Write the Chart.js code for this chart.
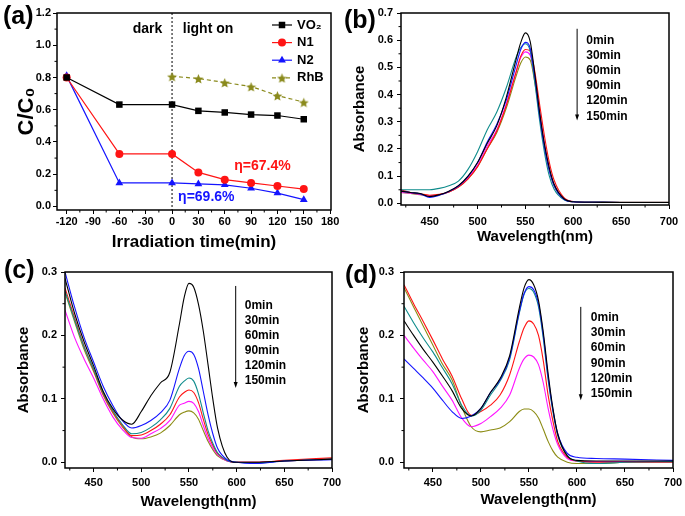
<!DOCTYPE html>
<html>
<head>
<meta charset="utf-8">
<script src="https://cdn.jsdelivr.net/npm/chart.js@4.4.1/dist/chart.umd.min.js"></script>
<style>
  body { margin: 0; background: #fff; }
  #fig { position: relative; width: 685px; height: 516px; overflow: hidden; }
  #fig canvas { position: absolute; }
</style>
</head>
<body>
<div id="fig">
  <canvas id="pa" width="342" height="258" style="left:0;top:0"></canvas>
  <canvas id="pb" width="343" height="258" style="left:342px;top:0"></canvas>
  <canvas id="pc" width="342" height="258" style="left:0;top:258px"></canvas>
  <canvas id="pd" width="343" height="258" style="left:342px;top:258px"></canvas>
</div>
<script>
// ---- panel (a): C/C0 vs irradiation time ----
const timeMin = [-120, -60, 0, 30, 60, 90, 120, 150];
const vo2 = [0.80, 0.632, 0.632, 0.593, 0.583, 0.570, 0.564, 0.541];
const n1 = [0.80, 0.326, 0.326, 0.211, 0.166, 0.146, 0.127, 0.108];
const n2 = [0.81, 0.146, 0.146, 0.140, 0.134, 0.113, 0.083, 0.042];
const rhbTime = [0, 30, 60, 90, 120, 150];
const rhb = [0.807, 0.794, 0.769, 0.744, 0.688, 0.647];

// ---- panels (b)-(d): absorption spectra ----
const wavelength = [420, 430, 440, 450, 460, 470, 480, 490, 500, 510, 520, 530, 540, 545, 550, 555, 560, 565, 570, 575, 580, 590, 600, 620, 650, 700];
const timeLabels = ['0min', '30min', '60min', '90min', '120min', '150min'];

const absB = [
  [0.045, 0.040, 0.036, 0.025, 0.032, 0.045, 0.065, 0.100, 0.150, 0.220, 0.285, 0.390, 0.526, 0.590, 0.627, 0.595, 0.470, 0.330, 0.215, 0.130, 0.070, 0.018, 0.006, 0.004, 0.003, 0.003],
  [0.045, 0.040, 0.035, 0.022, 0.030, 0.044, 0.064, 0.098, 0.150, 0.225, 0.290, 0.380, 0.505, 0.565, 0.592, 0.570, 0.460, 0.320, 0.205, 0.120, 0.065, 0.016, 0.006, 0.004, 0.003, 0.003],
  [0.050, 0.050, 0.050, 0.050, 0.055, 0.065, 0.082, 0.125, 0.190, 0.270, 0.335, 0.425, 0.535, 0.572, 0.587, 0.560, 0.440, 0.300, 0.185, 0.100, 0.052, 0.014, 0.006, 0.005, 0.004, 0.004],
  [0.050, 0.040, 0.035, 0.030, 0.033, 0.042, 0.060, 0.090, 0.135, 0.200, 0.265, 0.360, 0.480, 0.540, 0.566, 0.560, 0.480, 0.360, 0.245, 0.150, 0.085, 0.022, 0.007, 0.005, 0.004, 0.004],
  [0.040, 0.037, 0.033, 0.028, 0.032, 0.043, 0.062, 0.094, 0.140, 0.210, 0.270, 0.365, 0.480, 0.535, 0.557, 0.545, 0.455, 0.330, 0.215, 0.125, 0.068, 0.018, 0.006, 0.004, 0.003, 0.003],
  [0.040, 0.036, 0.032, 0.027, 0.031, 0.042, 0.060, 0.090, 0.135, 0.200, 0.260, 0.350, 0.465, 0.515, 0.538, 0.527, 0.440, 0.320, 0.205, 0.120, 0.065, 0.017, 0.006, 0.004, 0.003, 0.003]
];

const absC = [
  [0.290, 0.235, 0.190, 0.152, 0.112, 0.085, 0.067, 0.060, 0.080, 0.105, 0.125, 0.142, 0.218, 0.260, 0.282, 0.276, 0.249, 0.207, 0.154, 0.100, 0.054, 0.008, 0.000, 0.000, 0.002, 0.005],
  [0.300, 0.245, 0.197, 0.158, 0.120, 0.090, 0.066, 0.054, 0.058, 0.066, 0.078, 0.098, 0.148, 0.168, 0.175, 0.170, 0.148, 0.112, 0.075, 0.045, 0.022, 0.004, 0.000, -0.002, 0.002, 0.004],
  [0.270, 0.225, 0.182, 0.147, 0.110, 0.082, 0.060, 0.045, 0.047, 0.055, 0.067, 0.085, 0.120, 0.128, 0.133, 0.128, 0.108, 0.078, 0.050, 0.030, 0.015, 0.003, 0.000, -0.001, 0.002, 0.005],
  [0.275, 0.228, 0.183, 0.146, 0.108, 0.080, 0.058, 0.042, 0.043, 0.050, 0.060, 0.075, 0.103, 0.110, 0.114, 0.110, 0.094, 0.068, 0.044, 0.027, 0.014, 0.003, 0.000, 0.000, 0.003, 0.007],
  [0.240, 0.197, 0.163, 0.133, 0.100, 0.072, 0.052, 0.039, 0.038, 0.045, 0.053, 0.066, 0.090, 0.093, 0.096, 0.093, 0.080, 0.058, 0.038, 0.023, 0.012, 0.002, 0.000, 0.000, 0.002, 0.005],
  [0.268, 0.222, 0.178, 0.143, 0.106, 0.078, 0.056, 0.040, 0.037, 0.040, 0.046, 0.058, 0.075, 0.079, 0.081, 0.078, 0.068, 0.050, 0.033, 0.020, 0.010, 0.002, 0.000, 0.000, 0.002, 0.005]
];

const absD = [
  [0.223, 0.200, 0.178, 0.158, 0.136, 0.113, 0.085, 0.073, 0.085, 0.110, 0.132, 0.168, 0.243, 0.275, 0.288, 0.280, 0.255, 0.205, 0.140, 0.085, 0.045, 0.010, 0.003, 0.002, 0.002, 0.002],
  [0.163, 0.148, 0.133, 0.117, 0.098, 0.080, 0.069, 0.073, 0.085, 0.110, 0.130, 0.165, 0.237, 0.266, 0.277, 0.272, 0.250, 0.200, 0.135, 0.083, 0.045, 0.014, 0.008, 0.006, 0.005, 0.003],
  [0.246, 0.220, 0.196, 0.174, 0.149, 0.124, 0.090, 0.073, 0.082, 0.106, 0.128, 0.162, 0.235, 0.265, 0.274, 0.268, 0.245, 0.195, 0.130, 0.080, 0.042, 0.010, 0.002, -0.002, 0.000, 0.001],
  [0.280, 0.250, 0.222, 0.193, 0.163, 0.136, 0.100, 0.074, 0.080, 0.090, 0.106, 0.138, 0.190, 0.212, 0.223, 0.218, 0.200, 0.160, 0.106, 0.065, 0.033, 0.008, 0.002, 0.000, 0.000, 0.000],
  [0.200, 0.180, 0.161, 0.143, 0.120, 0.098, 0.070, 0.056, 0.061, 0.072, 0.085, 0.106, 0.148, 0.163, 0.169, 0.166, 0.154, 0.125, 0.085, 0.052, 0.028, 0.006, 0.002, 0.001, 0.001, 0.001],
  [0.275, 0.245, 0.215, 0.185, 0.155, 0.130, 0.088, 0.056, 0.048, 0.051, 0.054, 0.064, 0.080, 0.084, 0.084, 0.080, 0.070, 0.052, 0.033, 0.018, 0.008, 0.000, -0.002, -0.002, 0.000, 0.001]
];

const spectraColors = ['#000000', '#1414ff', '#0f8c8c', '#ff1414', '#ff14ff', '#8c8c14'];

Chart.defaults.font.family = "'Liberation Sans', Arial, sans-serif";
Chart.defaults.font.weight = 'bold';
Chart.defaults.font.size = 11;
Chart.defaults.color = '#000';

// frame round the plot area + minor ticks between the major ones
const framePlugin = {
  id: 'frame',
  afterDraw(chart) {
    const { ctx, chartArea: a } = chart;
    ctx.save();
    ctx.strokeStyle = '#000';
    ctx.lineWidth = 1;
    ['x', 'y'].forEach(id => {
      const s = chart.scales[id];
      const vals = s.ticks.map(t => t.value);
      const step = vals[1] - vals[0];
      for (let v = vals[0] - step / 2; v <= s.max; v += step) {
        if (v < s.min) continue;
        const p = s.getPixelForValue(v);
        ctx.beginPath();
        if (id === 'x') { ctx.moveTo(p, a.bottom); ctx.lineTo(p, a.bottom + 2.5); }
        else { ctx.moveTo(a.left, p); ctx.lineTo(a.left - 2.5, p); }
        ctx.stroke();
      }
    });
    ctx.lineWidth = 1.5;
    ctx.strokeRect(a.left, a.top, a.right - a.left, a.bottom - a.top);
    ctx.restore();
  }
};

const panelLabelPlugin = {
  id: 'panelLabel',
  afterDraw(chart, args, opts) {
    const ctx = chart.ctx;
    ctx.save();
    ctx.font = "bold 25px 'Liberation Sans', Arial, sans-serif";
    ctx.fillStyle = '#000';
    ctx.textBaseline = 'middle';
    ctx.fillText(opts.text, opts.x, opts.y);
    ctx.restore();
  }
};

// arrow with the list of irradiation times
const timeArrowPlugin = {
  id: 'timeArrow',
  afterDraw(chart, args, o) {
    const { ctx, scales: { x, y } } = chart;
    const ax = x.getPixelForValue(o.x);
    const y1 = y.getPixelForValue(o.yTop);
    const y2 = y.getPixelForValue(o.yBot);
    ctx.save();
    ctx.strokeStyle = '#000';
    ctx.fillStyle = '#000';
    ctx.lineWidth = 1;
    ctx.beginPath(); ctx.moveTo(ax, y1); ctx.lineTo(ax, y2 - 5); ctx.stroke();
    ctx.beginPath(); ctx.moveTo(ax - 2, y2 - 6); ctx.lineTo(ax + 2, y2 - 6); ctx.lineTo(ax, y2); ctx.closePath(); ctx.fill();
    ctx.font = "bold 12px 'Liberation Sans', Arial, sans-serif";
    ctx.textBaseline = 'middle';
    const lx = x.getPixelForValue(o.labelX);
    const ly = y.getPixelForValue(o.labelY);
    timeLabels.forEach((t, i) => ctx.fillText(t, lx, ly + i * o.gap));
    ctx.restore();
  }
};

function axes(o) {
  return {
    x: {
      type: 'linear', min: o.xMin, max: o.xMax,
      grid: { drawOnChartArea: false, drawTicks: true, tickLength: 4, color: '#000', tickColor: '#000' },
      border: { display: false },
      ticks: { stepSize: o.xStep, includeBounds: false, padding: o.xPad, maxRotation: 0, autoSkip: false },
      title: { display: true, text: o.xTitle, font: { size: o.xTitleSize, weight: 'bold' }, padding: { top: 0, bottom: o.xTitlePad } },
      afterFit(s) { s.height = o.xH; s.paddingLeft = 0; s.paddingRight = 0; }
    },
    y: {
      type: 'linear', min: o.yMin, max: o.yMax,
      grid: { drawOnChartArea: false, drawTicks: true, tickLength: 4, color: '#000', tickColor: '#000' },
      border: { display: false },
      ticks: { stepSize: o.yStep, includeBounds: false, padding: o.yPad, callback: v => v.toFixed(1) },
      title: { display: true, text: o.yTitle, font: { size: o.yTitleSize, weight: 'bold' }, padding: { top: o.yTitlePad, bottom: 0 } },
      afterFit(s) { s.width = o.yW; s.paddingTop = 0; s.paddingBottom = 0; }
    }
  };
}

// ---- (a) ----
function starImage(size, fill) {
  const c = document.createElement('canvas');
  c.width = c.height = size;
  const g = c.getContext('2d');
  const R = size / 2 - 0.3, r = R * 0.45;
  g.beginPath();
  for (let i = 0; i < 10; i++) {
    const rad = i % 2 ? r : R;
    const ang = -Math.PI / 2 + i * Math.PI / 5;
    g.lineTo(size / 2 + rad * Math.cos(ang), size / 2 + 0.8 + rad * Math.sin(ang));
  }
  g.closePath();
  g.fillStyle = fill;
  g.fill();
  return c;
}
const star = starImage(11, '#8a8a1c');

const extrasA = {
  id: 'extrasA',
  beforeDatasetsDraw(chart) {
    const { ctx, chartArea: a, scales: { x } } = chart;
    const x0 = x.getPixelForValue(0);
    ctx.save();
    ctx.setLineDash([2, 2]);
    ctx.strokeStyle = '#000';
    ctx.lineWidth = 1;
    ctx.beginPath(); ctx.moveTo(x0, a.top); ctx.lineTo(x0, a.bottom); ctx.stroke();
    ctx.restore();
  },
  afterDraw(chart) {
    const { ctx, chartArea: a, scales: { x, y } } = chart;
    ctx.save();
    ctx.textBaseline = 'middle';
    ctx.textAlign = 'center';
    ctx.font = "bold 14px 'Liberation Sans', Arial, sans-serif";
    ctx.fillStyle = '#000';
    ctx.fillText('dark', x.getPixelForValue(-28), y.getPixelForValue(1.099));
    ctx.fillText('light on', x.getPixelForValue(41), y.getPixelForValue(1.099));
    ctx.fillStyle = '#ff1414';
    ctx.fillText('\u03b7=67.4%', x.getPixelForValue(103), y.getPixelForValue(0.253));
    ctx.fillStyle = '#1414ff';
    ctx.fillText('\u03b7=69.6%', x.getPixelForValue(39), y.getPixelForValue(0.06));
    // legend
    ctx.textAlign = 'left';
    ctx.font = "bold 13px 'Liberation Sans', Arial, sans-serif";
    chart.data.datasets.forEach((ds, i) => {
      const ly = a.top + 12 + i * 17.6;
      ctx.strokeStyle = ds.borderColor;
      ctx.lineWidth = 1.2;
      ctx.setLineDash(ds.borderDash || []);
      ctx.beginPath(); ctx.moveTo(a.right - 59, ly); ctx.lineTo(a.right - 39, ly); ctx.stroke();
      ctx.setLineDash([]);
      ctx.fillStyle = ds.backgroundColor;
      Chart.helpers.drawPoint(ctx, { pointStyle: ds.pointStyle, radius: ds.pointRadius, rotation: 0, borderWidth: 0 }, a.right - 49, ly);
      ctx.fillStyle = '#000';
      ctx.fillText(ds.label, a.right - 34, ly);
    });
    ctx.restore();
  }
};

new Chart(document.getElementById('pa'), {
  type: 'line',
  data: {
    datasets: [
      { label: 'VO\u2082', data: timeMin.map((t, i) => ({ x: t, y: vo2[i] })), borderColor: '#000', backgroundColor: '#000', pointStyle: 'rect', pointRadius: 4.6 },
      { label: 'N1', data: timeMin.map((t, i) => ({ x: t, y: n1[i] })), borderColor: '#ff1414', backgroundColor: '#ff1414', pointStyle: 'circle', pointRadius: 4 },
      { label: 'N2', data: timeMin.map((t, i) => ({ x: t, y: n2[i] })), borderColor: '#1414ff', backgroundColor: '#1414ff', pointStyle: 'triangle', pointRadius: 4.5 },
      { label: 'RhB', data: rhbTime.map((t, i) => ({ x: t, y: rhb[i] })), borderColor: '#8a8a1c', backgroundColor: '#8a8a1c', pointStyle: star, pointRadius: 5, borderDash: [4, 3] }
    ].map(d => Object.assign({ borderWidth: 1.2, pointBorderWidth: 0, tension: 0 }, d))
  },
  options: {
    responsive: false, animation: false, devicePixelRatio: 1,
    layout: { padding: { left: 0, top: 13, right: 11, bottom: 0 } },
    plugins: {
      legend: { display: false }, tooltip: { enabled: false },
      panelLabel: { text: '(a)', x: 3, y: 17 }
    },
    scales: axes({
      xMin: -131, xMax: 181, xStep: 30, xPad: 1, xTitle: 'Irradiation time(min)', xTitleSize: 17, xTitlePad: 5, xH: 48,
      yMin: -0.022, yMax: 1.2, yStep: 0.2, yPad: 2, yTitle: 'C/C\u2080', yTitleSize: 22, yTitlePad: 14, yW: 57
    })
  },
  plugins: [framePlugin, panelLabelPlugin, extrasA]
});

// ---- (b)-(d) ----
function spectrumChart(id, series, o) {
  new Chart(document.getElementById(id), {
    type: 'line',
    data: {
      datasets: series.map((vals, k) => ({
        label: timeLabels[k],
        data: wavelength.map((w, i) => ({ x: w, y: vals[i] })),
        borderColor: spectraColors[k],
        borderWidth: 1.1,
        pointRadius: 0,
        cubicInterpolationMode: 'monotone'
      }))
    },
    options: {
      responsive: false, animation: false, devicePixelRatio: 1,
      layout: { padding: { left: 0, top: o.top, right: o.right, bottom: 0 } },
      plugins: {
        legend: { display: false }, tooltip: { enabled: false },
        panelLabel: o.label,
        timeArrow: o.arrow
      },
      scales: axes(Object.assign({
        xMin: 420, xMax: 700, xStep: 50, xTitle: 'Wavelength(nm)', xTitleSize: 15,
        yStep: 0.1, yTitle: 'Absorbance', yTitleSize: 15
      }, o.axes))
    },
    plugins: [framePlugin, panelLabelPlugin, timeArrowPlugin]
  });
}

spectrumChart('pb', absB, {
  top: 13, right: 16,
  label: { text: '(b)', x: 2, y: 21 },
  arrow: { x: 604, yTop: 0.642, yBot: 0.305, labelX: 613.5, labelY: 0.600, gap: 15.2 },
  axes: { xPad: 6, xTitlePad: 12, xH: 53, yMin: -0.006, yMax: 0.7, yPad: 4, yTitlePad: 9, yW: 59 }
});

spectrumChart('pc', absC, {
  top: 14, right: 10,
  label: { text: '(c)', x: 4, y: 13 },
  arrow: { x: 599, yTop: 0.278, yBot: 0.117, labelX: 608.5, labelY: 0.2465, gap: 15 },
  axes: { xPad: 4, xTitlePad: 5, xH: 48, yMin: -0.009, yMax: 0.3, yPad: 4, yTitlePad: 15, yW: 65 }
});

spectrumChart('pd', absD, {
  top: 14, right: 12,
  label: { text: '(d)', x: 3, y: 18 },
  arrow: { x: 604, yTop: 0.245, yBot: 0.098, labelX: 614.5, labelY: 0.2286, gap: 15.3 },
  axes: { xPad: 4, xTitlePad: 7, xH: 48, yMin: -0.009, yMax: 0.3, yPad: 6, yTitlePad: 13, yW: 62 }
});
</script>
</body>
</html>
